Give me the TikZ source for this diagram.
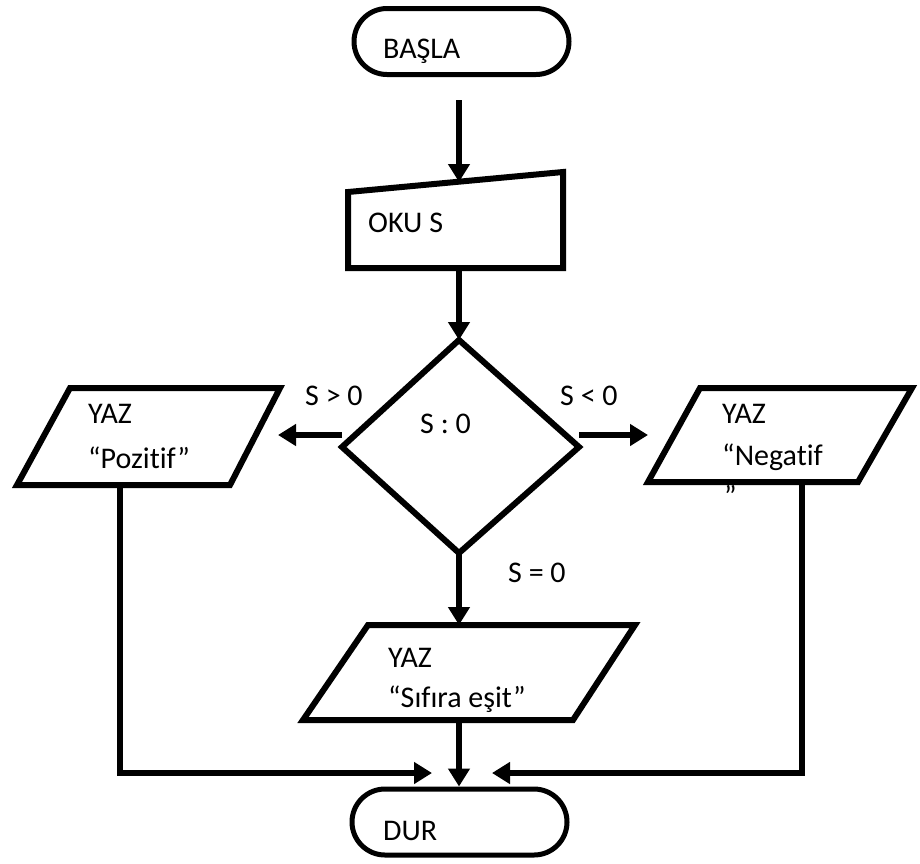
\documentclass[tikz,border=0pt]{standalone}
\usepackage{fontspec}
\setmainfont{Carlito}[Ligatures=NoCommon]
\usetikzlibrary{arrows.meta,shapes.misc}
\begin{document}
\begin{tikzpicture}[x=1pt,y=-1pt,
  shp/.style={draw, line width=6pt, line join=miter},
  conn/.style={line width=6pt, -{Triangle[length=18pt,width=21pt]}},
  term/.style={draw, line width=5pt, rounded rectangle, minimum width=215pt, minimum height=66pt, inner sep=0pt},
  txt/.style={anchor=base west, inner sep=0pt, font=\fontsize{30}{42}\selectfont}]
\useasboundingbox (0,0) rectangle (920,863);
% terminators
\node[term] (basla) at (461.5,41.5) {};
\node[term] (dur) at (459.5,822) {};
\node[txt] (baslat) at (383,58) {BAŞLA};
\node[txt] (durt) at (383,840) {DUR};
% manual input
\coordinate (okubl) at (348,268);
\coordinate (okutl) at (348,192);
\coordinate (okutr) at (563,172);
\coordinate (okubr) at (563,268);
\coordinate (okutop) at (459,182);
\coordinate (okubot) at (459,268);
\draw[shp] (okubl) -- (okutl) -- (okutr) -- (okubr) -- cycle;
\node[txt] (okut) at (368,232) {OKU S};
% decision
\coordinate (dtop) at (459,340);
\coordinate (dleft) at (342,447);
\coordinate (dright) at (579,447);
\coordinate (dbot) at (459,553);
\draw[shp] (dtop) -- (dright) -- (dbot) -- (dleft) -- cycle;
\node[txt] (dt) at (420,433) {S : 0};
% pozitif
\coordinate (ptl) at (70,388);
\coordinate (ptr) at (280,388);
\coordinate (pbr) at (230,485);
\coordinate (pbl) at (17,485);
\coordinate (pin) at (278,435);
\coordinate (pbot) at (120,485);
\draw[shp] (ptl) -- (ptr) -- (pbr) -- (pbl) -- cycle;
\node[txt] (p1) at (88,423) {YAZ};
\node[txt] (p2) at (88,468) {“Pozitif”};
% negatif
\coordinate (ntl) at (700,388);
\coordinate (ntr) at (912,388);
\coordinate (nbr) at (858,482);
\coordinate (nbl) at (648,482);
\coordinate (nin) at (648,435);
\coordinate (nbot) at (802,482);
\draw[shp] (ntl) -- (ntr) -- (nbr) -- (nbl) -- cycle;
\node[txt] (n1) at (722,423) {YAZ};
\node[txt] (n2) at (722,465) {“Negatif};
\node[txt] (n3) at (724,506) {”};
% sifira
\coordinate (stl) at (368,625);
\coordinate (str) at (635,625);
\coordinate (sbr) at (573,720);
\coordinate (sbl) at (303,720);
\coordinate (stop) at (459,625);
\coordinate (sbot) at (459,720);
\draw[shp] (stl) -- (str) -- (sbr) -- (sbl) -- cycle;
\node[txt] (s1) at (388,667) {YAZ};
\node[txt] (s2) at (388,707) {“Sıfıra eşit”};
% labels
\node[txt] (lg) at (305,405) {S > 0};
\node[txt] (ll) at (560,405) {S < 0};
\node[txt] (le) at (508,582) {S = 0};
% connectors
\coordinate (bstart) at (459,100);
\coordinate (dleftc) at (342,435);
\coordinate (drightc) at (579,435);
\coordinate (jl) at (432,773);
\coordinate (jr) at (492,773);
\draw[conn] (bstart) -- (okutop);
\draw[conn] (okubot) -- (dtop);
\draw[conn] (dleftc) -- (pin);
\draw[conn] (drightc) -- (nin);
\draw[conn] (dbot) -- (stop);
\draw[conn] (sbot) -- (dur.north -| sbot);
\draw[conn] (pbot) |- (jl);
\draw[conn] (nbot) |- (jr);
\end{tikzpicture}
\end{document}
